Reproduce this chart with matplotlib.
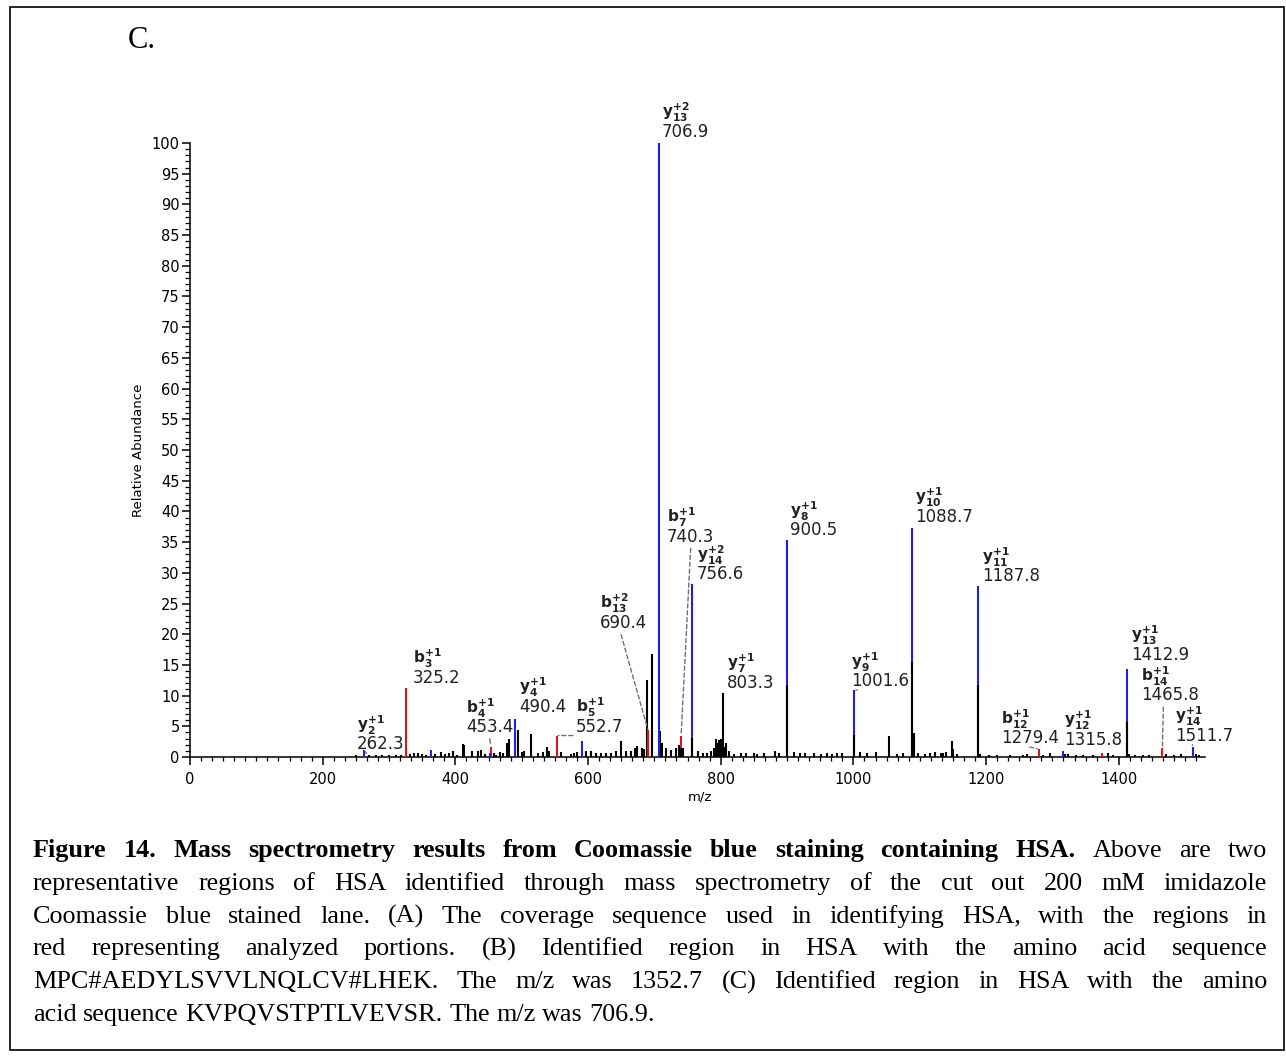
import matplotlib.pyplot as plt
from matplotlib.ticker import MultipleLocator
from matplotlib.patches import Rectangle

# =============================
# SPECTRUM DATA
# =============================
# annotated fragment ions
ion_mz = [262.3, 325.2, 453.4, 490.4, 552.7, 690.4, 706.9, 740.3, 756.6, 803.3,
          900.5, 1001.6, 1088.7, 1187.8, 1279.4, 1315.8, 1412.9, 1465.8, 1511.7]
ion_int = [1.1, 11.3, 1.6, 6.2, 3.5, 4.4, 100.0, 3.5, 28.1, 10.5,
           35.3, 10.9, 37.3, 27.8, 1.3, 1.0, 14.4, 1.4, 1.7]
ion_series = ['y', 'b', 'b', 'y', 'b', 'b', 'y', 'b', 'y', '',
              'y', 'y', 'y', 'y', 'b', 'y', 'y', 'b', 'y']
ion_letter = ['y', 'b', 'b', 'y', 'b', 'b', 'y', 'b', 'y', 'y',
              'y', 'y', 'y', 'y', 'b', 'y', 'y', 'b', 'y']
ion_index = ['2', '3', '4', '4', '5', '13', '13', '7', '14', '7',
             '8', '9', '10', '11', '12', '12', '13', '14', '14']
ion_charge = ['+1', '+1', '+1', '+1', '+1', '+2', '+2', '+1', '+2', '+1',
              '+1', '+1', '+1', '+1', '+1', '+1', '+1', '+1', '+1']

# matched but unlabelled ions
extra_mz = [363.5, 452.0, 591.6, 1375.0]
extra_int = [1.1, 0.6, 2.6, 0.65]
extra_series = ['y', 'y', 'y', 'b']

# unmatched signal sitting under the ion peaks
base_mz = [740.3, 756.6, 900.5, 1001.6, 1088.7, 1187.8, 1412.9]
base_int = [1.4, 3.1, 11.7, 3.6, 15.5, 11.7, 5.7]

# rest of the spectrum
peak_mz = [250, 270, 280, 290, 300, 310, 318, 332, 338.4, 343.4, 349.5, 356, 370,
           378.6, 385, 391, 396, 403, 411, 413.7, 424.7, 434.7, 438.7, 445, 458.8,
           462, 467.8, 472, 477.4, 481.4, 493.9, 500, 504, 513.9, 524, 531.5, 537.5,
           541.5, 559, 574, 579, 584, 596.6, 604, 612, 619, 627, 634, 642, 649.4,
           657, 664.4, 671, 674.5, 682, 684.5, 689.5, 697, 708, 712, 717, 724.6,
           732, 737, 743, 765, 772.6, 780, 785, 790, 792.5, 795, 797.5, 800, 805,
           807.6, 812.6, 820, 830, 838, 850, 855, 865, 882.5, 887.5, 910, 920,
           927.7, 940, 950.5, 960.6, 968, 976, 983.5, 1010, 1020.4, 1034, 1053,
           1065, 1075, 1090.6, 1098, 1108, 1115.6, 1123, 1131.6, 1135.6, 1139.6,
           1148, 1150.6, 1155.6, 1191, 1203.7, 1216, 1236, 1256, 1261, 1286, 1296,
           1319, 1323.6, 1336, 1346, 1361, 1383.5, 1391, 1416, 1424, 1436, 1446,
           1471, 1484, 1494, 1516, 1521]
peak_int = [0.3, 0.4, 0.3, 0.4, 0.3, 0.4, 0.3, 0.5, 0.7, 0.6, 0.5, 0.4, 0.5,
            0.8, 0.5, 0.6, 1.0, 0.4, 2.1, 1.9, 1.0, 0.9, 1.2, 0.5, 0.6,
            0.4, 0.8, 0.6, 2.3, 2.9, 4.4, 0.8, 1.0, 3.8, 0.6, 0.8, 1.7,
            1.0, 0.8, 0.5, 0.7, 0.8, 1.0, 0.9, 0.7, 0.6, 0.7, 0.6, 1.0, 2.6,
            0.9, 1.0, 1.4, 1.8, 1.4, 1.3, 12.6, 16.7, 4.3, 2.3, 1.4, 1.2,
            1.5, 1.9, 1.5, 1.0, 0.7, 0.6, 0.9, 1.4, 2.9, 2.2, 2.8, 3.0, 1.6,
            2.2, 1.0, 0.5, 0.6, 0.7, 0.6, 0.5, 0.6, 1.0, 0.6, 0.8, 0.7,
            0.6, 0.6, 0.5, 0.7, 0.5, 0.6, 0.7, 0.8, 0.6, 0.8, 3.4,
            0.5, 0.6, 3.9, 0.6, 0.5, 0.6, 0.8, 0.6, 0.7, 0.8,
            2.6, 1.3, 0.5, 0.5, 0.4, 0.3, 0.4, 0.4, 0.5, 0.4, 0.6,
            0.5, 0.5, 0.4, 0.4, 0.4, 0.6, 0.4, 0.5, 0.4, 0.4, 0.4,
            0.5, 0.4, 0.5, 0.5, 0.4]

# label placement: offset of the m/z text (pixels) from the peak top,
# and where a dashed leader leaves the text (None = no leader)
label_offset = [(-7, 1), (7, 5), (-25, 15), (4, 7), (19, 4), (-48, 102), (3, 6),
                (-14, 194), (5, 5), (4, 5), (3, 5), (-3, 4), (3, 6), (4, 5),
                (-38, 6), (1, 6), (4, 9), (-21, 48), (-18, 6)]
leader_rel = [0.2, None, 0.5, None, 0.2, 0.43, None, 0.5, None, None, None, 0.1,
              None, None, 0.5, None, None, 0.38, 0.3]

colors = {'y': '#2020e0', 'b': '#e01414', '': 'black'}
label_color = '#222222'

W, H = 1286, 1057
fig = plt.figure(figsize=(W / 100, H / 100), dpi=100)
ax = fig.add_axes([190 / W, 1 - 757 / H, 1015 / W, 614 / H])

# =============================
# PEAKS
# =============================
ax.vlines(peak_mz, 0, peak_int, color='black', lw=1.5, zorder=2)
ax.vlines(ion_mz, 0, ion_int, color=[colors[s] for s in ion_series], lw=1.5,
          zorder=3, clip_on=False)
ax.vlines(extra_mz, 0, extra_int, color=[colors[s] for s in extra_series], lw=1.5, zorder=3)
ax.vlines(base_mz, 0, base_int, color='black', lw=1.5, zorder=4)


def put(text, xy, off, **kw):
    return ax.annotate(text, xy=xy, xytext=off, textcoords='offset pixels',
                       ha='left', va='baseline', color=label_color,
                       annotation_clip=False, **kw)


# ion labels: letter with stacked charge / index, m/z underneath
for i, (mz, inten) in enumerate(zip(ion_mz, ion_int)):
    dx, dy = label_offset[i]
    rel = leader_rel[i]
    arrow = None
    if rel is not None:
        arrow = dict(arrowstyle='-', linestyle=(0, (3, 2)), color='#707070', lw=1,
                     shrinkA=0, shrinkB=1, relpos=(rel, 0))
    put(f'{mz:.1f}', (mz, inten), (dx, dy), fontsize=12, arrowprops=arrow)
    name = r'$\mathbf{%s}_{\mathbf{%s}}^{\mathbf{%s}}$' % (ion_letter[i], ion_index[i], ion_charge[i])
    put(name, (mz, inten), (dx, dy + 19), fontsize=11)

# =============================
# AXES
# =============================
ax.set_xlim(0, 1530)
ax.set_ylim(0, 100)
for side in ['top', 'right']:
    ax.spines[side].set_visible(False)
for side in ['left', 'bottom']:
    ax.spines[side].set_linewidth(1.1)

ax.xaxis.set_major_locator(MultipleLocator(200))
ax.xaxis.set_minor_locator(MultipleLocator(50 / 3))
ax.yaxis.set_major_locator(MultipleLocator(5))
ax.yaxis.set_minor_locator(MultipleLocator(1))
ax.tick_params(axis='x', which='major', length=6, width=1.1, pad=5, labelsize=10.5)
ax.tick_params(axis='x', which='minor', length=3, width=0.9)
ax.tick_params(axis='y', which='major', length=6, width=1.1, pad=1.5, labelsize=10.5)
ax.tick_params(axis='y', which='minor', length=3.5, width=0.9)

fig.text(138 / W, 1 - 450 / H, 'Relative Abundance', rotation=90, ha='center',
         va='center', fontsize=9.5)
fig.text(700 / W, 1 - 797 / H, 'm/z', ha='center', va='center', fontsize=9.5)

# panel letter and frame
fig.text(128 / W, 1 - 48 / H, 'C.', family='Liberation Serif', fontsize=22, va='baseline')
fig.patches.append(Rectangle((10 / W, 1 - 1050 / H), 1274 / W, 1043 / H, fill=False,
                             lw=1.2, ec='black', transform=fig.transFigure))

# =============================
# CAPTION (justified)
# =============================
caption = [
    [("Figure 14. Mass spectrometry results from Coomassie blue staining containing HSA.", 'bold'),
     ("Above are two", 'normal')],
    [("representative regions of HSA identified through mass spectrometry of the cut out 200 mM imidazole", 'normal')],
    [("Coomassie blue stained lane. (A) The coverage sequence used in identifying HSA, with the regions in", 'normal')],
    [("red representing analyzed portions. (B) Identified region in HSA with the amino acid sequence", 'normal')],
    [("MPC#AEDYLSVVLNQLCV#LHEK. The m/z was 1352.7 (C) Identified region in HSA with the amino", 'normal')],
    [("acid sequence KVPQVSTPTLVEVSR. The m/z was 706.9.", 'normal')],
]
cap_left, cap_right = 33, 1267
cap_base0, cap_step = 857, 32.8
cap_font = dict(family='Liberation Serif', fontsize=18.8, va='baseline')

renderer = fig.canvas.get_renderer()
probe = fig.text(0, 0, 'a a', **cap_font)
w_aa = probe.get_window_extent(renderer).width
probe.set_text('aa')
space = w_aa - probe.get_window_extent(renderer).width
probe.remove()

for i, line in enumerate(caption):
    base = cap_base0 + i * cap_step
    words = [(w, wt) for chunk, wt in line for w in chunk.split(' ')]
    texts = [fig.text(0, 1 - base / H, w, fontweight=wt, **cap_font) for w, wt in words]
    widths = [t.get_window_extent(renderer).width for t in texts]
    if i < len(caption) - 1:
        gap = max((cap_right - cap_left - sum(widths)) / (len(texts) - 1), 0.5 * space)
    else:
        gap = space
    x = cap_left
    for t, w in zip(texts, widths):
        t.set_x(x / W)
        x += w + gap

fig.savefig('out.png', dpi=100)
